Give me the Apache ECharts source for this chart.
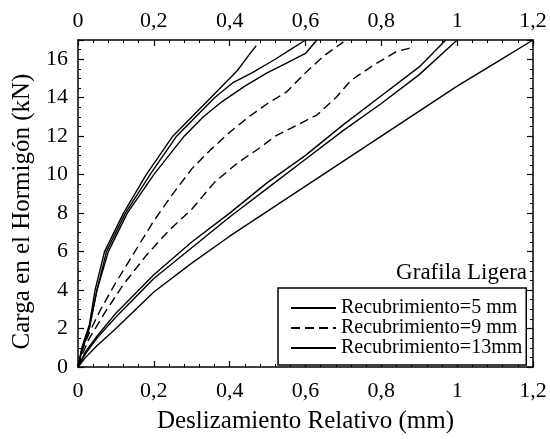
<!DOCTYPE html>
<html>
<head>
<meta charset="utf-8">
<script src="https://cdn.jsdelivr.net/npm/echarts@6/dist/echarts.min.js"></script>
<style>
html, body { margin: 0; padding: 0; background: #fff; }
#chart { width: 550px; height: 439px; }
</style>
</head>
<body>
<div id="chart"></div>
<script>
// valores: [deslizamiento (mm), carga (kN)]
var xTicks = [0, 0.2, 0.4, 0.6, 0.8, 1, 1.2];
var yTicks = [0, 2, 4, 6, 8, 10, 12, 14, 16];
var legendNames = ['Recubrimiento=5 mm', 'Recubrimiento=9 mm', 'Recubrimiento=13mm'];

var rec5a = [[0, 0], [0.01, 1], [0.03, 2.2], [0.045, 4], [0.07, 6], [0.12, 8], [0.18, 10], [0.25, 12], [0.3, 13], [0.35, 14], [0.39, 14.8], [0.42, 15.4], [0.45, 16.2], [0.47, 16.7]];
var rec5b = [[0, 0], [0.01, 0.9], [0.03, 2.1], [0.05, 4], [0.075, 6], [0.125, 8], [0.19, 10], [0.26, 12], [0.31, 13], [0.36, 14], [0.41, 14.8], [0.46, 15.3], [0.52, 16], [0.56, 16.5], [0.6, 17]];
var rec5c = [[0, 0], [0.01, 0.8], [0.03, 2], [0.05, 4], [0.08, 6], [0.13, 8], [0.2, 10], [0.28, 12], [0.33, 13], [0.38, 13.8], [0.44, 14.6], [0.5, 15.3], [0.55, 15.8], [0.6, 16.3], [0.63, 17]];

var rec9a = [[0, 0], [0.01, 0.8], [0.03, 1.8], [0.06, 3], [0.1, 4.4], [0.15, 6], [0.2, 7.6], [0.25, 9], [0.3, 10.3], [0.35, 11.3], [0.4, 12.2], [0.45, 13], [0.5, 13.7], [0.55, 14.3], [0.6, 15.3], [0.65, 16.2], [0.7, 16.9]];
var rec9b = [[0, 0], [0.01, 0.6], [0.03, 1.5], [0.07, 2.8], [0.12, 4.3], [0.18, 5.8], [0.24, 7.1], [0.3, 8.2], [0.36, 9.6], [0.42, 10.6], [0.48, 11.4], [0.52, 12], [0.58, 12.6], [0.63, 13.1], [0.68, 14], [0.72, 14.9], [0.78, 15.7], [0.84, 16.4], [0.88, 16.6]];

var rec13a = [[0, 0], [0.02, 0.8], [0.05, 1.6], [0.1, 2.8], [0.2, 4.8], [0.3, 6.5], [0.4, 8], [0.5, 9.6], [0.6, 11], [0.7, 12.6], [0.8, 14.1], [0.9, 15.6], [0.97, 17]];
var rec13b = [[0, 0], [0.02, 0.7], [0.05, 1.5], [0.1, 2.6], [0.2, 4.6], [0.3, 6.2], [0.4, 7.8], [0.5, 9.3], [0.6, 10.8], [0.7, 12.3], [0.8, 13.7], [0.9, 15.2], [1, 17]];
var rec13c = [[0, 0], [0.02, 0.5], [0.05, 1.1], [0.1, 2], [0.2, 3.9], [0.3, 5.4], [0.4, 6.8], [0.5, 8.1], [0.6, 9.4], [0.7, 10.7], [0.8, 12], [0.9, 13.3], [1, 14.6], [1.1, 15.8], [1.2, 17]];

var serif = "'Liberation Serif', 'Times New Roman', serif";

function coma(v) {
    return String(v).replace('.', ',');
}

function linea(name, data, dashed) {
    return {
        name: name,
        type: 'line',
        data: data,
        symbol: 'none',
        smooth: false,
        lineStyle: {
            color: '#000',
            width: 1.4,
            type: dashed ? [9, 5] : 'solid'
        },
        itemStyle: { color: '#000' }
    };
}

function ejeX(pos, margin) {
    return {
        type: 'value',
        position: pos,
        min: xTicks[0],
        max: xTicks[xTicks.length - 1],
        interval: 0.2,
        axisLine: { show: true, onZero: false, lineStyle: { color: '#000', width: 1.5 } },
        axisTick: { show: true, inside: true, length: 6, lineStyle: { color: '#000', width: 1.2 } },
        minorTick: { show: true, splitNumber: 5, length: 3, lineStyle: { color: '#000', width: 1 } },
        splitLine: { show: false },
        axisLabel: {
            show: true,
            margin: margin,
            color: '#000',
            fontFamily: serif,
            fontSize: 22,
            formatter: coma
        }
    };
}

function ejeY(pos, labels) {
    return {
        type: 'value',
        position: pos,
        min: 0,
        max: 17,
        interval: 2,
        axisLine: { show: true, onZero: false, lineStyle: { color: '#000', width: 1.5 } },
        axisTick: { show: true, inside: true, length: 6, lineStyle: { color: '#000', width: 1.2 } },
        minorTick: { show: true, splitNumber: 4, length: 3, lineStyle: { color: '#000', width: 1 } },
        splitLine: { show: false },
        axisLabel: {
            show: labels,
            showMaxLabel: false,
            margin: 10,
            color: '#000',
            fontFamily: serif,
            fontSize: 22
        }
    };
}

var chart = echarts.init(document.getElementById('chart'), null, { renderer: 'canvas' });

var xBottom = ejeX('bottom', 13);
xBottom.name = 'Deslizamiento Relativo (mm)';
xBottom.nameLocation = 'middle';
xBottom.nameGap = 42;
xBottom.nameTextStyle = { color: '#000', fontFamily: serif, fontSize: 25 };

var yLeft = ejeY('left', true);
yLeft.name = 'Carga en el Hormigón (kN)';
yLeft.nameLocation = 'middle';
yLeft.nameGap = 42;
yLeft.nameTextStyle = { color: '#000', fontFamily: serif, fontSize: 25, padding: [0, 16, 0, 0] };

var option = {
    backgroundColor: '#fff',
    animation: false,
    grid: { left: 78, right: 17, top: 40, bottom: 63 },
    xAxis: [xBottom, ejeX('top', 8)],
    yAxis: [yLeft, ejeY('right', false)],
    legend: {
        data: legendNames,
        orient: 'vertical',
        left: 278,
        top: 288,
        width: 250,
        padding: [10, 4, 7, 12],
        itemWidth: 45,
        itemHeight: 14,
        itemGap: 0,
        backgroundColor: '#fff',
        borderColor: '#000',
        borderWidth: 1.5,
        selectedMode: false,
        itemStyle: { opacity: 0 },
        textStyle: { color: '#000', fontFamily: serif, fontSize: 20, lineHeight: 20 }
    },
    graphic: [{
        type: 'text',
        right: 23,
        top: 261,
        style: { text: 'Grafila Ligera', fill: '#000', font: '23px ' + serif }
    }],
    series: [
        linea(legendNames[0], rec5a, false),
        linea(legendNames[0], rec5b, false),
        linea(legendNames[0], rec5c, false),
        linea(legendNames[1], rec9a, true),
        linea(legendNames[1], rec9b, true),
        linea(legendNames[2], rec13a, false),
        linea(legendNames[2], rec13b, false),
        linea(legendNames[2], rec13c, false)
    ]
};

chart.setOption(option);
</script>
</body>
</html>
